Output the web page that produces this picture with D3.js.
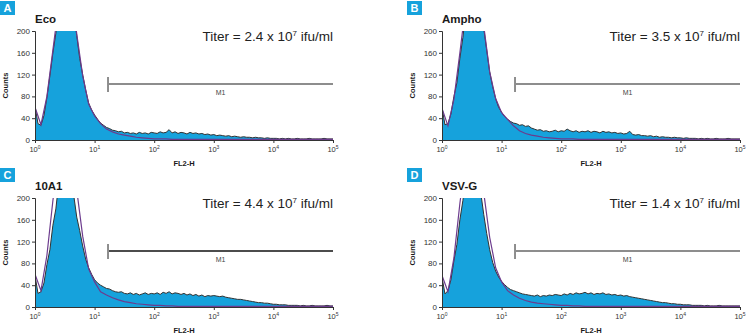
<!DOCTYPE html>
<html lang="en">
<head>
<meta charset="utf-8">
<title>Titer histograms</title>
<script src="https://d3js.org/d3.v7.min.js"></script>
<style>
  body { margin: 0; background: #fff; }
  svg text { font-family: "Liberation Sans", Arial, Helvetica, sans-serif; }
</style>
</head>
<body>
<svg id="chart" width="750" height="335"></svg>
<script>
// ---------------- data ----------------
var panelLetters = ["A", "B", "C", "D"];
var panelNames = ["Eco", "Ampho", "10A1", "VSV-G"];
var titers = ["2.4", "3.5", "4.4", "1.4"];
var yTicks = [0, 40, 80, 120, 160, 200];
var xTickExps = [0, 1, 2, 3, 4, 5];
var gateStart = 16.8;   // M1 marker start (FL2-H)
var gateEnd = 1e5;

// sample histograms, one value every 0.05 decade (10^0 .. 10^5)
var ecoSample = [62, 30, 27, 45, 78, 118, 160, 196, 240, 275, 300, 305, 280, 235, 192, 150, 120, 92, 68, 55,
  46, 38, 31, 27, 23, 21, 18, 17, 15, 16, 13, 14, 12, 13, 11, 14, 12, 13, 11, 14,
  13, 12, 15, 13, 14, 19, 13, 15, 12, 14, 13, 11, 14, 12, 13, 11, 12, 10, 11, 9,
  10, 8, 9, 8, 7, 8, 6, 7, 6, 5, 6, 5, 5, 4, 5, 4, 4, 3, 4, 3,
  3, 3, 2, 3, 2, 3, 2, 2, 3, 2, 2, 2, 3, 2, 2, 2, 2, 3, 2, 2, 2];
var amphoSample = [60, 28, 30, 48, 80, 105, 150, 188, 235, 280, 310, 320, 300, 260, 205, 165, 125, 98, 76, 60,
  51, 43, 38, 34, 31, 30, 27, 28, 25, 26, 22, 20, 18, 19, 16, 17, 15, 16, 18, 15,
  17, 16, 20, 17, 15, 17, 14, 16, 15, 17, 14, 16, 15, 13, 16, 14, 15, 13, 14, 12,
  13, 11, 12, 16, 10, 9, 10, 8, 8, 7, 8, 6, 7, 5, 6, 5, 5, 4, 5, 4,
  4, 3, 4, 3, 3, 3, 2, 3, 2, 3, 2, 2, 3, 2, 2, 2, 3, 2, 2, 2, 2];
var a10Sample = [58, 25, 28, 44, 78, 105, 150, 180, 230, 270, 290, 285, 250, 205, 165, 140, 112, 88, 72, 60,
  50, 44, 40, 37, 34, 33, 30, 28, 27, 28, 25, 24, 26, 23, 25, 22, 24, 26, 23, 25,
  24, 26, 23, 27, 25, 28, 24, 26, 25, 23, 25, 22, 24, 21, 23, 20, 22, 19, 21, 20,
  21, 20, 19, 20, 18, 17, 16, 15, 14, 14, 13, 12, 11, 10, 9, 8, 8, 7, 7, 6,
  5, 5, 4, 4, 4, 3, 3, 3, 3, 2, 3, 2, 2, 3, 2, 2, 2, 2, 3, 2, 2];
var vsvSample = [55, 24, 30, 50, 85, 115, 160, 195, 240, 285, 300, 295, 255, 210, 170, 135, 105, 82, 66, 55,
  47, 41, 36, 32, 30, 28, 26, 24, 23, 22, 21, 20, 22, 19, 21, 20, 22, 21, 23, 22,
  21, 24, 22, 25, 23, 26, 24, 25, 27, 24, 26, 23, 25, 24, 26, 23, 24, 22, 23, 21,
  22, 20, 21, 19, 18, 17, 16, 15, 14, 13, 12, 11, 10, 9, 8, 8, 7, 6, 6, 5,
  5, 4, 4, 4, 3, 3, 3, 3, 2, 3, 2, 2, 2, 3, 2, 2, 2, 2, 2, 2, 2];

// control histograms, one value every 0.1 decade
var ecoControl = [60, 28, 80, 165, 250, 300, 285, 195, 118, 66, 44, 30, 20, 15, 11, 9, 7, 5, 4, 3,
  2, 2, 2, 1, 1, 1, 1, 1, 1, 1, 1, 1, 1, 1, 1, 1, 1, 1, 1, 1, 1, 1, 1, 1, 1, 1, 1, 1, 1, 1, 1];
var amphoControl = [58, 26, 75, 160, 250, 310, 300, 210, 125, 76, 50, 38, 26, 17, 12, 9, 7, 5, 4, 3,
  2, 2, 2, 1, 1, 1, 1, 1, 1, 1, 1, 1, 1, 1, 1, 1, 1, 1, 1, 1, 1, 1, 1, 1, 1, 1, 1, 1, 1, 1, 1];
var a10Control = [60, 30, 95, 195, 280, 320, 290, 215, 130, 70, 46, 28, 22, 17, 13, 10, 8, 6, 5, 4,
  3, 3, 2, 2, 1, 1, 1, 1, 1, 1, 1, 1, 1, 1, 1, 1, 1, 1, 1, 1, 1, 1, 1, 1, 1, 1, 1, 1, 1, 1, 1];
var vsvControl = [58, 28, 90, 190, 275, 315, 290, 210, 128, 72, 46, 30, 22, 16, 12, 9, 7, 6, 5, 4,
  3, 3, 2, 2, 1, 1, 1, 1, 1, 1, 1, 1, 1, 1, 1, 1, 1, 1, 1, 1, 1, 1, 1, 1, 1, 1, 1, 1, 1, 1, 1];

var samples = [ecoSample, amphoSample, a10Sample, vsvSample];
var controls = [ecoControl, amphoControl, a10Control, vsvControl];

// ---------------- layout ----------------
var plotW = 298, plotH = 109;
var originsX = [35, 442];
var originsY = [31, 198];
var fillBlue = "#16a2dc";
var gateGray = "#8d8d8d";

var svg = d3.select("#chart");

var x = d3.scaleLog().domain([1, 1e5]).range([0, plotW]);
var y = d3.scaleLinear().domain([0, 200]).range([plotH, 0]);

function toPoints(vals, step) {
  return vals.map(function (v, i) { return { f: Math.pow(10, i * step), c: v }; });
}

var area = d3.area()
  .x(function (d) { return x(d.f); })
  .y0(y(0))
  .y1(function (d) { return y(d.c); });
var line = d3.line()
  .x(function (d) { return x(d.f); })
  .y(function (d) { return y(d.c); });

panelLetters.forEach(function (letter, k) {
  var px = originsX[k % 2], py = originsY[Math.floor(k / 2)];
  var g = svg.append("g").attr("transform", "translate(" + px + "," + py + ")");

  // letter badge
  g.append("rect").attr("x", -35).attr("y", -30).attr("width", 15).attr("height", 14)
    .attr("fill", fillBlue);
  g.append("text").attr("x", -27.5).attr("y", -19).attr("text-anchor", "middle")
    .attr("fill", "#fff").attr("font-size", 11).attr("font-weight", "bold").text(letter);

  // title
  g.append("text").attr("x", 0).attr("y", -8).attr("font-size", 11.5).attr("font-weight", "bold")
    .attr("fill", "#1a1a1a").text(panelNames[k]);

  // histograms
  var clipId = "clip" + k;
  g.append("clipPath").attr("id", clipId).append("rect")
    .attr("x", 0).attr("y", 0).attr("width", plotW).attr("height", plotH);
  var h = g.append("g").attr("clip-path", "url(#" + clipId + ")");
  var s = toPoints(samples[k], 0.05);
  var c = toPoints(controls[k], 0.1);
  h.append("path").datum(s).attr("d", area).attr("fill", fillBlue);
  h.append("path").datum(s).attr("d", line).attr("fill", "none")
    .attr("stroke", "#333").attr("stroke-width", 1);
  h.append("path").datum(c).attr("d", line).attr("fill", "none")
    .attr("stroke", "#6c3b8e").attr("stroke-width", 1.2);

  // axes
  var yAxis = g.append("g").call(d3.axisLeft(y).tickValues(yTicks).tickSize(3).tickPadding(2));
  var xAxis = g.append("g").attr("transform", "translate(0," + plotH + ")")
    .call(d3.axisBottom(x).tickValues(xTickExps.map(function (e) { return Math.pow(10, e); }))
      .tickSize(3).tickFormat(""));
  [yAxis, xAxis].forEach(function (a) {
    a.select(".domain").attr("stroke", "#333");
    a.selectAll(".tick line").attr("stroke", "#333");
  });
  yAxis.selectAll(".tick text").attr("font-size", 8).attr("fill", "#333")
    .attr("font-family", "'Liberation Sans', Arial, sans-serif");

  // x tick labels 10^n
  var xl = g.append("g").selectAll("text").data(xTickExps).enter().append("text")
    .attr("x", function (e) { return x(Math.pow(10, e)); })
    .attr("y", plotH + 12).attr("text-anchor", "middle")
    .attr("font-size", 7.5).attr("fill", "#333");
  xl.append("tspan").text("10");
  xl.append("tspan").attr("dy", -3).attr("font-size", 5).text(function (e) { return e; });

  // axis titles
  g.append("text").attr("x", plotW / 2).attr("y", plotH + 26).attr("text-anchor", "middle")
    .attr("font-size", 7.5).attr("font-weight", "bold").attr("fill", "#1a1a1a").text("FL2-H");
  g.append("text").attr("transform", "translate(-27," + (plotH / 2) + ") rotate(-90)")
    .attr("text-anchor", "middle").attr("font-size", 7.5).attr("font-weight", "bold")
    .attr("fill", "#1a1a1a").text("Counts");

  // titer
  var t = g.append("text").attr("x", plotW).attr("y", 10).attr("text-anchor", "end")
    .attr("font-size", 13.5).attr("fill", "#222");
  t.append("tspan").text("Titer = " + titers[k] + " x 10");
  t.append("tspan").attr("dy", -5).attr("font-size", 8).text("7");
  t.append("tspan").attr("dy", 5).text(" ifu/ml");

  // M1 gate marker
  var gx0 = x(gateStart), gx1 = x(gateEnd), gy = 53;
  g.append("line").attr("x1", gx0).attr("x2", gx1).attr("y1", gy).attr("y2", gy)
    .attr("stroke", k === 2 ? "#111" : gateGray).attr("stroke-width", k === 2 ? 1.3 : 2);
  g.append("line").attr("x1", gx0).attr("x2", gx0).attr("y1", gy - 7).attr("y2", gy + 8)
    .attr("stroke", gateGray).attr("stroke-width", 2);
  g.append("text").attr("x", (gx0 + gx1) / 2).attr("y", gy + 11).attr("text-anchor", "middle")
    .attr("font-size", 7).attr("fill", "#444").text("M1");
});
</script>
</body>
</html>
